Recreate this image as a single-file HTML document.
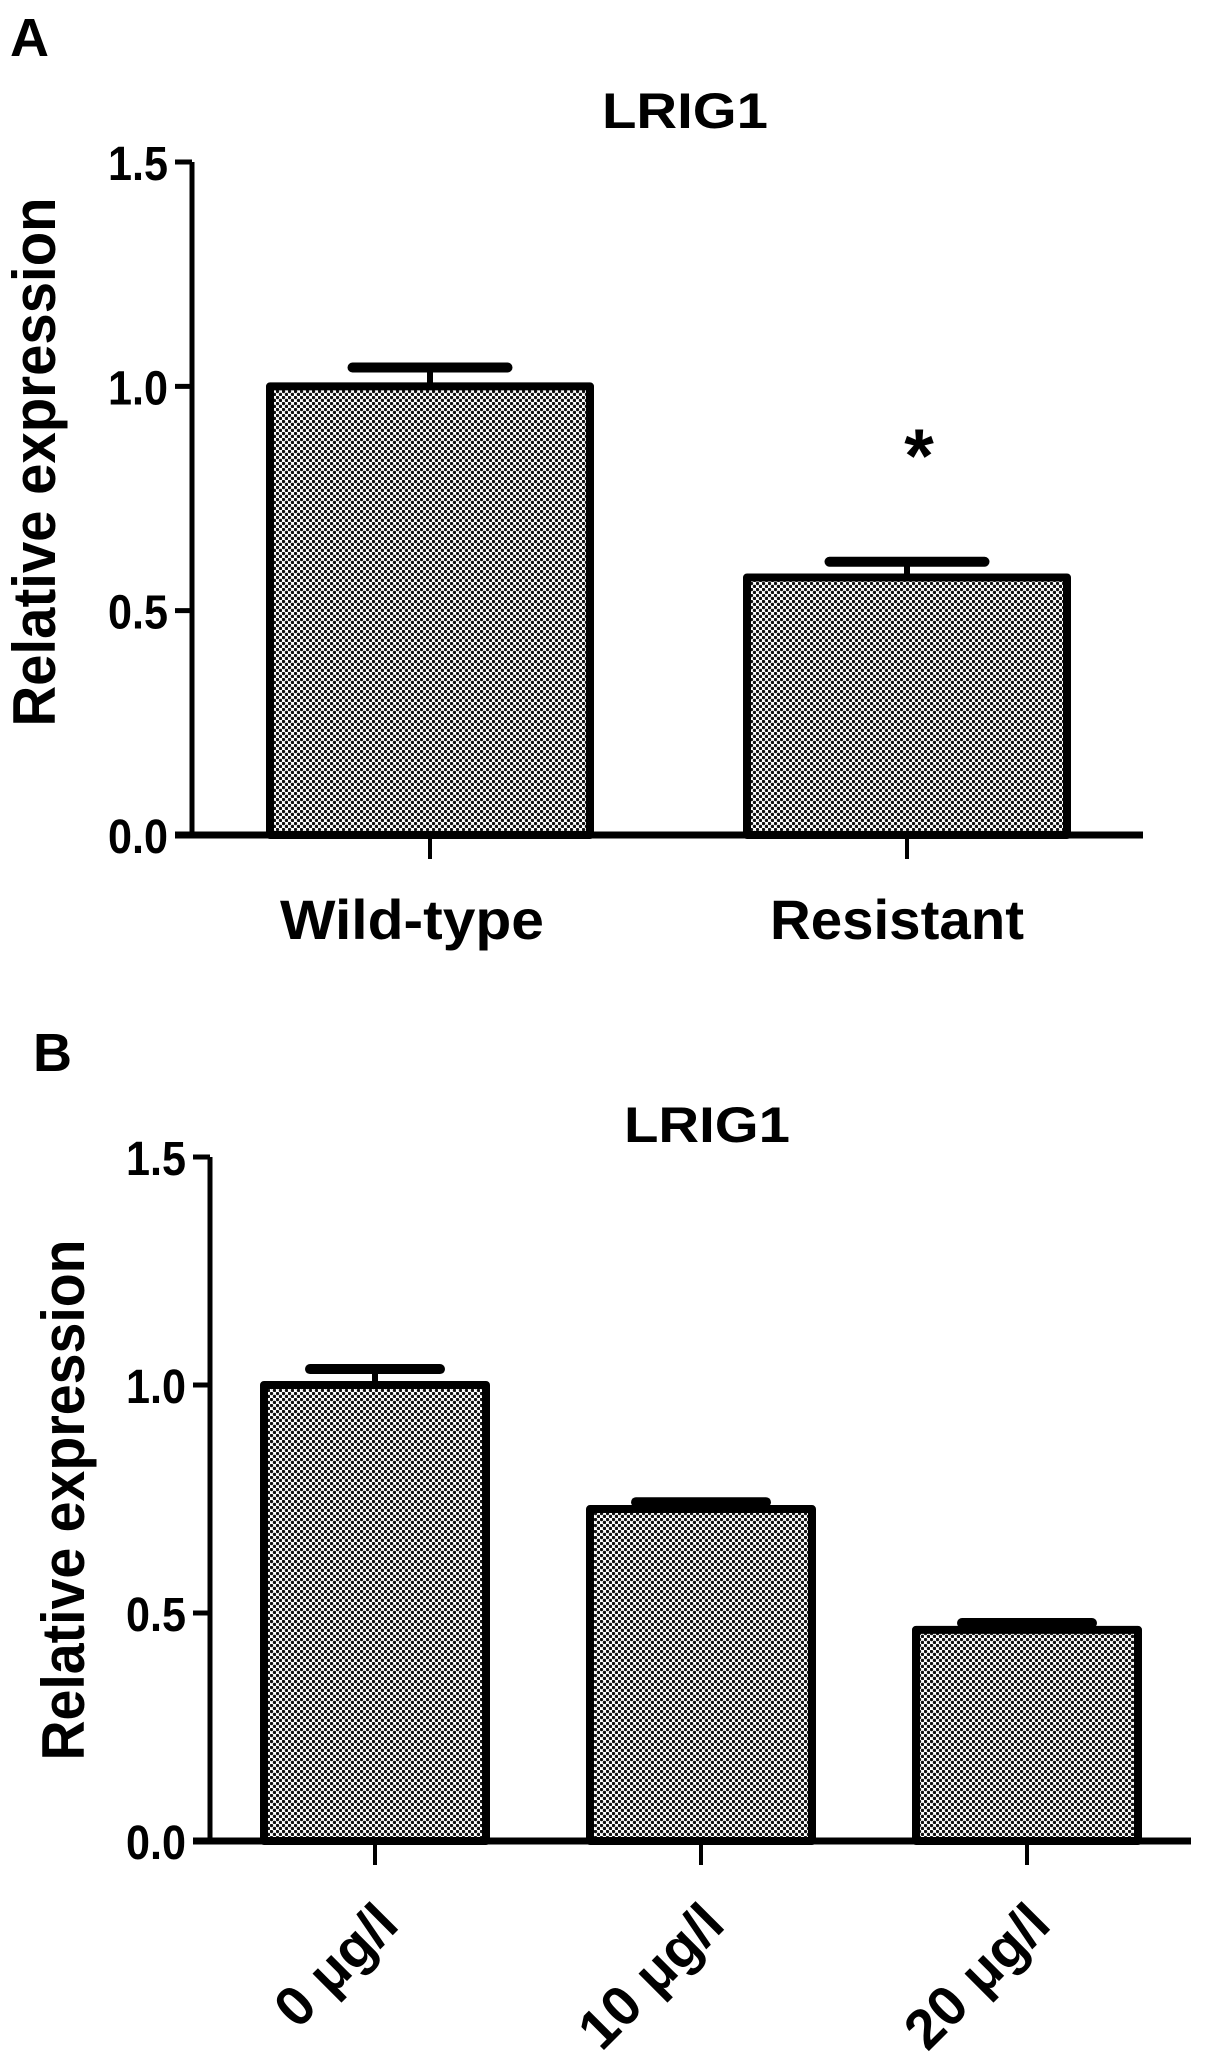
<!DOCTYPE html>
<html>
<head>
<meta charset="utf-8">
<style>
html,body{margin:0;padding:0;background:#fff;}
svg{display:block;}
text{font-family:"Liberation Sans",Arial,sans-serif;font-weight:bold;fill:#000;}
</style>
</head>
<body>
<svg id="fig" width="1205" height="2063" viewBox="0 0 1205 2063" xmlns="http://www.w3.org/2000/svg">
  <defs>
    <pattern id="dots" width="6" height="6" patternUnits="userSpaceOnUse">
      <rect width="6" height="6" fill="#fff"/>
      <circle cx="1.5" cy="1.5" r="1.7" fill="#111"/>
      <circle cx="4.5" cy="4.5" r="1.7" fill="#111"/>
    </pattern>
  </defs>
  <g id="panelA"></g>
  <g id="panelB"></g>
</svg>
<script>
// Panel A data
const catsA = ["Wild-type", "Resistant"];
const valsA = [1.0, 0.574];
const errsA = [0.042, 0.035];
const sigA = ["", "*"];
// Panel B data
const catsB = ["0 μg/l", "10 μg/l", "20 μg/l"];
const valsB = [1.0, 0.728, 0.463];
const errsB = [0.035, 0.015, 0.015];
// shared axis ticks
const yTicks = [0.0, 0.5, 1.0, 1.5];
const yTickLabels = ["0.0", "0.5", "1.0", "1.5"];

const NS = "http://www.w3.org/2000/svg";
function mk(tag, attrs, parent) {
  const e = document.createElementNS(NS, tag);
  for (const k in attrs) e.setAttribute(k, attrs[k]);
  parent.appendChild(e);
  return e;
}

function drawPanel(g, cfg, cats, vals, errs, sigs) {
  const y = v => cfg.y0 - (v / 1.5) * (cfg.y0 - cfg.y15);
  const xc = i => cfg.firstX + i * cfg.step;

  const lbl = mk("text", {x: cfg.letterX, y: cfg.letterY, "font-size": 54}, g);
  lbl.textContent = cfg.letter;
  
  

  const t = mk("text", {x: cfg.titleX, y: cfg.titleY, "font-size": 50, "text-anchor": "middle", textLength: 166, lengthAdjust: "spacingAndGlyphs"}, g);
  t.textContent = "LRIG1";
  
  

  const yl = mk("text", {x: 0, y: 0, "font-size": 60, "text-anchor": "middle", textLength: cfg.ylLen, lengthAdjust: "spacingAndGlyphs", transform: `translate(${cfg.ylX},${cfg.ylY}) rotate(-90)`}, g);
  yl.textContent = "Relative expression";
  
  

  cats.forEach((c, i) => {
    const x0 = xc(i) - cfg.barW / 2;
    const top = y(vals[i]);
    const errTop = y(vals[i] + errs[i]);
    const eg = mk("line", {x1: xc(i), x2: xc(i), y1: top, y2: errTop, stroke: "#000", "stroke-width": 6}, g);
    
    
    const cap = mk("line", {x1: xc(i) - cfg.capW / 2, x2: xc(i) + cfg.capW / 2, y1: errTop, y2: errTop, stroke: "#000", "stroke-width": 10, "stroke-linecap": "round"}, g);
    
    
    const r = mk("rect", {x: x0, y: top, width: cfg.barW, height: cfg.y0 - top, fill: "url(#dots)", stroke: "#000", "stroke-width": 8, "stroke-linejoin": "round"}, g);
    
    
    const tk = mk("line", {x1: xc(i), x2: xc(i), y1: cfg.y0, y2: cfg.y0 + 24, stroke: "#000", "stroke-width": 4}, g);
    
    
    let xl;
    if (cfg.rotate) {
      xl = mk("text", {x: 0, y: 0, "font-size": 56, "text-anchor": "end", transform: `translate(${xc(i) + 26},${cfg.y0 + 86}) rotate(-45)`}, g);
    } else {
      xl = mk("text", {x: xc(i) + cfg.xlOff[i], y: cfg.xlY, "font-size": 56, "text-anchor": "middle", textLength: cfg.xlLen[i], lengthAdjust: "spacingAndGlyphs"}, g);
    }
    xl.textContent = c;
    
    
    if (sigs && sigs[i]) {
      const s = mk("text", {x: xc(i) + 12, y: errTop - 80, "font-size": 76, "text-anchor": "middle"}, g);
      s.textContent = sigs[i];
      
      
    }
  });

  const ya = mk("line", {x1: cfg.axX, x2: cfg.axX, y1: y(1.5), y2: cfg.y0 + 3, stroke: "#000", "stroke-width": 5}, g);
  
  
  const xa = mk("line", {x1: cfg.axX - 17, x2: cfg.axEnd, y1: cfg.y0, y2: cfg.y0, stroke: "#000", "stroke-width": 7}, g);
  
  
  yTicks.forEach((v, k) => {
    const tl = mk("line", {x1: cfg.axX - 17, x2: cfg.axX, y1: y(v), y2: y(v), stroke: "#000", "stroke-width": 5}, g);
    
    
    const tx = mk("text", {x: cfg.axX - 24, y: y(v) + 18, "font-size": 48, "text-anchor": "end", textLength: 60, lengthAdjust: "spacingAndGlyphs"}, g);
    tx.textContent = yTickLabels[k];
    
    
  });
}

drawPanel(document.getElementById("panelA"), {
  letter: "A", letterX: 10, letterY: 56,
  titleX: 685, titleY: 128,
  ylX: 55, ylY: 462, ylLen: 529,
  y0: 835, y15: 162, axX: 192, axEnd: 1143,
  firstX: 430, step: 477, barW: 320, capW: 155,
  rotate: false, xlY: 939, xlOff: [-18, -10], xlLen: [264, 254]
}, catsA, valsA, errsA, sigA);

drawPanel(document.getElementById("panelB"), {
  letter: "B", letterX: 33, letterY: 1071,
  titleX: 707, titleY: 1142,
  ylX: 84, ylY: 1500, ylLen: 521,
  y0: 1841, y15: 1157, axX: 210, axEnd: 1191,
  firstX: 375, step: 326, barW: 222, capW: 130,
  rotate: true
}, catsB, valsB, errsB, null);
</script>
</body>
</html>
